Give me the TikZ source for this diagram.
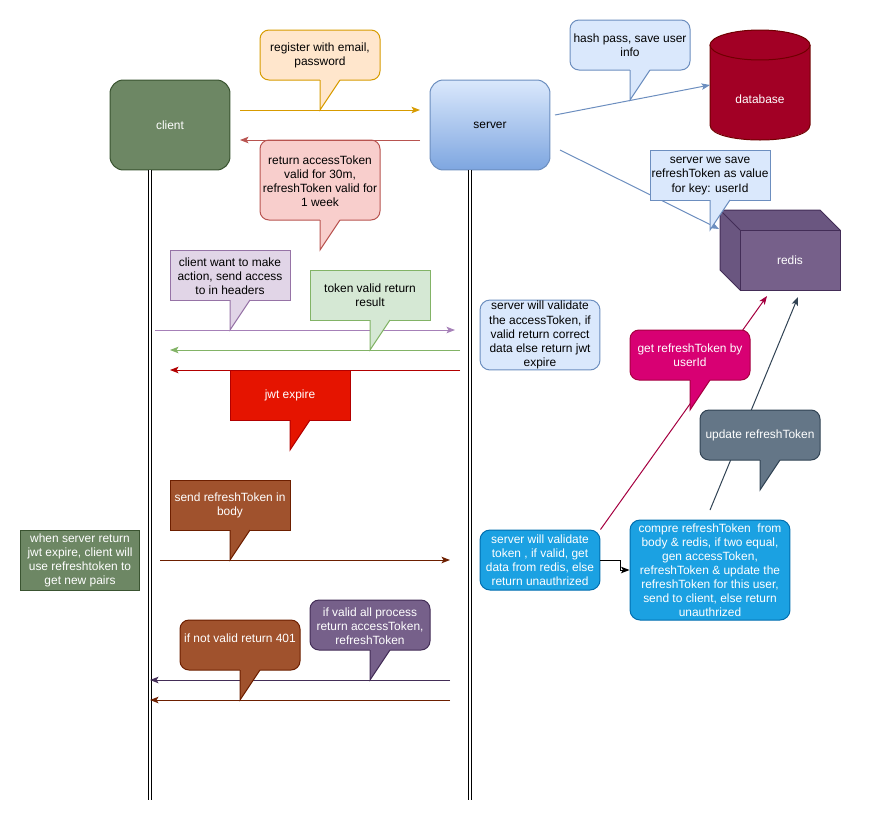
\documentclass[tikz,border=0pt]{standalone}
\usepackage{fontspec}
\setmainfont{Liberation Sans}
\usetikzlibrary{arrows.meta,calc}

\definecolor{clientfill}{HTML}{6D8764}
\definecolor{clientline}{HTML}{3A5431}
\definecolor{srvtop}{HTML}{DAE8FC}
\definecolor{srvbot}{HTML}{7EA6E0}
\definecolor{blueline}{HTML}{6C8EBF}
\definecolor{bluefill}{HTML}{DAE8FC}
\definecolor{dbfill}{HTML}{A20025}
\definecolor{dbline}{HTML}{6F0000}
\definecolor{redisfill}{HTML}{76608A}
\definecolor{redisside}{HTML}{6A5680}
\definecolor{redisline}{HTML}{432D57}
\definecolor{orangefill}{HTML}{FFE6CC}
\definecolor{orangeline}{HTML}{D79B00}
\definecolor{pinkfill}{HTML}{F8CECC}
\definecolor{pinkline}{HTML}{B85450}
\definecolor{lilacfill}{HTML}{E1D5E7}
\definecolor{lilacline}{HTML}{9673A6}
\definecolor{lilacarrow}{HTML}{A680B8}
\definecolor{greenfill}{HTML}{D5E8D4}
\definecolor{greenline}{HTML}{82B366}
\definecolor{redfill}{HTML}{E51400}
\definecolor{redline}{HTML}{B20000}
\definecolor{magfill}{HTML}{D80073}
\definecolor{magline}{HTML}{A50040}
\definecolor{slatefill}{HTML}{647687}
\definecolor{slateline}{HTML}{314354}
\definecolor{brownfill}{HTML}{A0522D}
\definecolor{brownline}{HTML}{6D1F00}
\definecolor{cyanfill}{HTML}{1BA1E2}
\definecolor{cyanline}{HTML}{006EAF}

\tikzset{
	every node/.style={font=\fontsize{6.8}{8}\selectfont, align=center, inner sep=0pt},
	msg/.style={-{Stealth[length=0.17cm,width=0.13cm,inset=0.04cm]}},
	lifeline/.style={double, double distance=0.05cm},
	actorbox/.style={rounded corners=0.27cm, minimum width=2.4cm, minimum height=1.8cm},
	notebox/.style={rounded corners=0.2cm, minimum width=2.4cm},
}
% rectangle (x1,y1)(x2,y2) with a pointer going down from x=tx to the tip (tx,ty)
\def\callout[#1](#2,#3)(#4,#5)(#6,#7){%
	\draw[#1] (#2,#3) rectangle (#4,#5);
	\fill[#1,draw=none,sharp corners] (#6,#5-1) -- (#6,#7) -- (#6+20,#5) -- (#6+20,#5-1) -- cycle;
	\draw[#1,fill=none,sharp corners] (#6,#5) -- (#6,#7) -- (#6+20,#5);
}

\begin{document}
\begin{tikzpicture}[x=0.02cm, y=-0.02cm, line width=0.02cm]
			%%%%% START %%%%%
			\useasboundingbox (0,0) rectangle (872,832);
			
			% actors and lifelines
			\node[actorbox, fill=clientfill, draw=clientline, text=white] (client) at (170,125) {client};
			\node[actorbox, top color=srvtop, bottom color=srvbot, draw=blueline] (server) at (490,125) {server};
			\coordinate (clienttop) at (150,170);
			\coordinate (clientbot) at (150,800);
			\coordinate (servertop) at (470,170);
			\coordinate (serverbot) at (470,800);
			\draw[lifeline] (clienttop) -- (clientbot);
			\draw[lifeline] (servertop) -- (serverbot);
			
			% database
			\fill[dbfill] (710,45) rectangle (810,125);
			\fill[dbfill] (760,125) ellipse (1cm and 0.3cm);
			\draw[dbline] (710,45) -- (710,125) .. controls (710,145) and (810,145) .. (810,125) -- (810,45);
			\draw[dbline, fill=dbfill] (760,45) ellipse (1cm and 0.3cm);
			\node[text=white] (database) at (760,99) {database};
			
			% redis
			\draw[redisline, fill=redisside] (720,210) -- (820,210) -- (840,230) -- (840,290) -- (740,290) -- (720,270) -- cycle;
			\draw[redisline, fill=redisfill] (740,230) rectangle (840,290);
			\draw[redisline] (720,210) -- (740,230);
			\node[text=white] (redis) at (790,260) {redis};
			
			% register / login
			\callout[fill=orangefill, draw=orangeline, rounded corners=0.18cm](260,30)(380,80)(320,110)
			\node (register) at (320,55) {register with email,\\password};
			\coordinate (regfrom) at (240,110);
			\coordinate (regto) at (420,110);
			\draw[msg, orangeline] (regfrom) -- (regto);
			
			\callout[fill=pinkfill, draw=pinkline, rounded corners=0.18cm](260,140)(380,220)(320,250)
			\node (tokens) at (320,181) {return accessToken\\valid for 30m,\\refreshToken valid for\\1 week};
			\coordinate (tokfrom) at (420,140);
			\coordinate (tokto) at (240,140);
			\draw[msg, pinkline] (tokfrom) -- (tokto);
			
			\callout[fill=bluefill, draw=blueline, rounded corners=0.18cm](570,20)(690,70)(630,100)
			\node (hashpass) at (630,45) {hash pass, save user\\info};
			\coordinate (dbfrom) at (555,115);
			\coordinate (dbin) at (710,85);
			\draw[msg, blueline] (dbfrom) -- (dbin);
			
			\coordinate (rdfrom) at (560,150);
			\coordinate (rdin) at (719,229);
			\draw[msg, blueline] (rdfrom) -- (rdin);
			\callout[fill=bluefill, draw=blueline](650,150)(770,200)(710,230)
			\node (savekey) at (710,176) {server we save\\refreshToken as value\\for key: userId};
			
			% normal request
			\callout[fill=lilacfill, draw=lilacline](170,250)(290,300)(230,330)
			\node (wantaction) at (230,276) {client want to make\\action, send access\\to in headers};
			\coordinate (actfrom) at (155,330);
			\coordinate (actto) at (455,330);
			\draw[msg, lilacarrow] (actfrom) -- (actto);
			
			\callout[fill=greenfill, draw=greenline](310,270)(430,320)(370,350)
			\node (tokenok) at (370,295) {token valid return\\result};
			\coordinate (okfrom) at (460,350);
			\coordinate (okto) at (170,350);
			\draw[msg, greenline] (okfrom) -- (okto);
			
			\coordinate (expfrom) at (460,370);
			\coordinate (expto) at (170,370);
			\draw[msg, redline] (expfrom) -- (expto);
			\callout[fill=redfill, draw=redline](230,370)(350,420)(290,450)
			\node[text=white] (jwtexp) at (290,395) {jwt expire};
			
			\node[notebox, fill=bluefill, draw=blueline, minimum height=1.4cm] (checkaccess) at (540,335) {server will validate\\the accessToken, if\\valid return correct\\data else return jwt\\expire};
			
			% refresh flow
			\node[fill=clientfill, draw=clientline, text=white, minimum width=2.4cm, minimum height=1.2cm] (note) at (80,560) {when server return\\jwt expire, client will\\use refreshtoken to\\get new pairs};
			
			\callout[fill=brownfill, draw=brownline, text=white](170,480)(290,530)(230,560)
			\node[text=white] (sendrt) at (230,505) {send refreshToken in\\body};
			\coordinate (sendfrom) at (160,560);
			\coordinate (sendto) at (450,560);
			\draw[msg, brownline] (sendfrom) -- (sendto);
			
			\node[notebox, fill=cyanfill, draw=cyanline, text=white, minimum height=1.2cm] (checkrt) at (540,560) {server will validate\\token , if valid, get\\data from redis, else\\return unauthrized};
			\node[notebox, fill=cyanfill, draw=cyanline, text=white, minimum width=3.2cm, minimum height=2cm] (compare) at (710,570) {compre refreshToken~ from\\body \& redis, if two equal,\\gen accessToken,\\refreshToken \& update the\\refreshToken for this user,\\send to client, else return\\unauthrized};
			\draw[msg] (checkrt.east) -- ++(20,0) |- (compare.west);
			
			\coordinate (getto) at (767,296);
			\draw[msg, magline] (checkrt.north east) -- (getto);
			\callout[fill=magfill, draw=magline, rounded corners=0.18cm](630,330)(750,380)(690,410)
			\node[text=white] (getrt) at (690,355) {get refreshToken by\\userId};
			
			\coordinate (updfrom) at (710,510);
			\coordinate (updto) at (798,297);
			\draw[msg, slateline] (updfrom) -- (updto);
			\callout[fill=slatefill, draw=slateline, rounded corners=0.18cm](700,410)(820,460)(760,490)
			\node[text=white] (updrt) at (760,435) {update refreshToken};
			
			% answers
			\coordinate (pairfrom) at (450,680);
			\coordinate (pairto) at (150,680);
			\draw[msg, redisline] (pairfrom) -- (pairto);
			\coordinate (errfrom) at (450,700);
			\coordinate (errto) at (150,700);
			\draw[msg, brownline] (errfrom) -- (errto);
			
			\callout[fill=redisfill, draw=redisline, rounded corners=0.18cm](310,600)(430,650)(370,680)
			\node[text=white] (newpair) at (370,626) {if valid all process\\return accessToken,\\refreshToken};
			\callout[fill=brownfill, draw=brownline, rounded corners=0.18cm](180,620)(300,670)(240,700)
			\node[text=white] (err401) at (240,638) {if not valid return 401};
			
			%%%%% END %%%%%
\end{tikzpicture}
\end{document}
